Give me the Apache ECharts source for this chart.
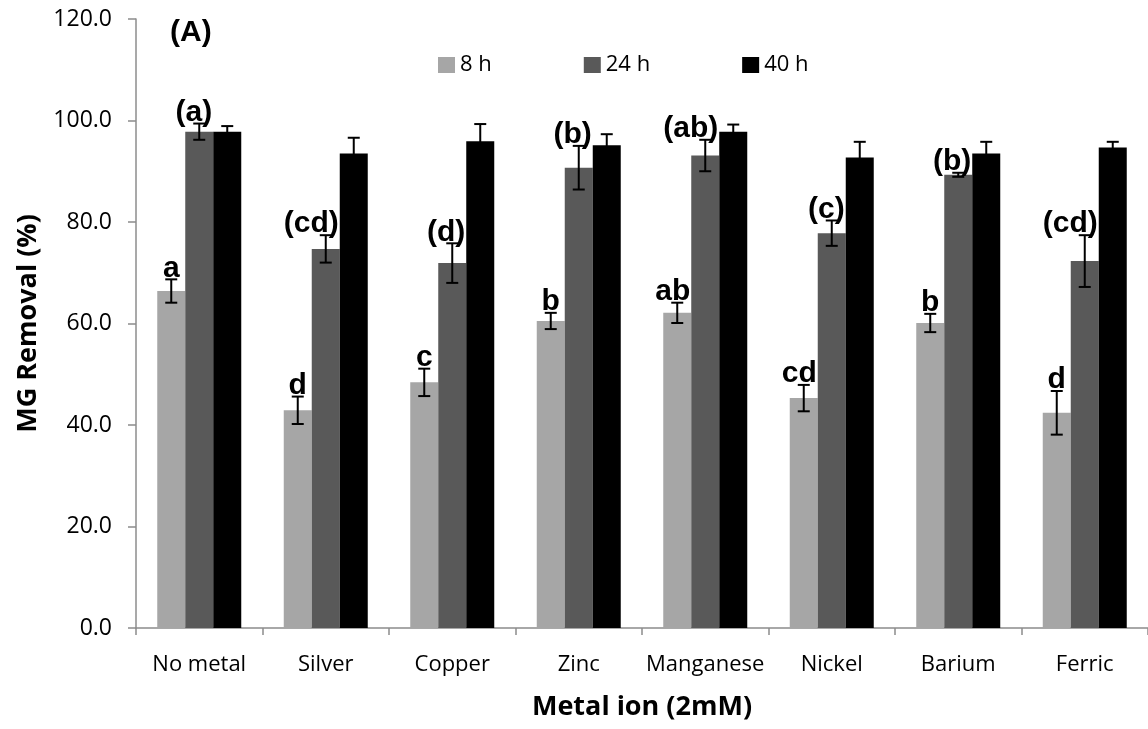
<!DOCTYPE html>
<html>
<head>
<meta charset="utf-8">
<title>MG Removal by metal ion</title>
<script src="https://cdn.jsdelivr.net/npm/echarts@6/dist/echarts.min.js"></script>
<style>
  html, body { margin: 0; padding: 0; background: #fff; }
  #chart { width: 1148px; height: 729px; }
</style>
</head>
<body>
<div id="chart"></div>
<script>
// Metal ions tested (2 mM)
const categories = ['No metal', 'Silver', 'Copper', 'Zinc', 'Manganese', 'Nickel', 'Barium', 'Ferric'];

// MG removal (%) and standard deviations at each sampling time
const removal8h  = [66.4, 42.9, 48.4, 60.5, 62.1, 45.3, 60.1, 42.4];
const err8h      = [2.3, 2.7, 2.7, 1.6, 2.0, 2.6, 1.8, 4.3];
const removal24h = [97.8, 74.7, 71.9, 90.7, 93.1, 77.8, 89.3, 72.3];
const err24h     = [1.6, 2.7, 3.9, 4.3, 3.1, 2.5, 0.4, 5.1];
const removal40h = [97.8, 93.5, 95.9, 95.1, 97.8, 92.7, 93.5, 94.7];
const err40h     = [1.1, 3.1, 3.4, 2.2, 1.4, 3.1, 2.3, 1.1];

// Significance groupings
const letters8h  = ['a', 'd', 'c', 'b', 'ab', 'cd', 'b', 'd'];
const letters24h = ['(a)', '(cd)', '(d)', '(b)', '(ab)', '(c)', '(b)', '(cd)'];

const seriesNames = ['8 h', '24 h', '40 h'];
const colors = ['#a6a6a6', '#595959', '#000000'];
const yTicks = [0, 20, 40, 60, 80, 100, 120];

const BAR_W = 28;
const LABEL_FONT = 'bold 30px "Liberation Sans", Arial, sans-serif';
const measureCtx = document.createElement('canvas').getContext('2d');
measureCtx.font = LABEL_FONT;
function textWidth(t) { return measureCtx.measureText(t).width; }

const chart = echarts.init(document.getElementById('chart'), null, { renderer: 'canvas' });

// Error bars with the significance letter above each bar
function errorSeries(idx, values, errs, letters) {
  const data = values.map((v, i) => [i, v, errs[i], letters ? letters[i] : '']);
  return {
    type: 'custom',
    name: seriesNames[idx] + ' error',
    z: 5,
    silent: true,
    data: data,
    renderItem: function (params, api) {
      const ci = api.value(0);
      const v = api.value(1);
      const e = api.value(2);
      const letter = data[params.dataIndex][3];
      const cx = api.coord([ci, 0])[0] + (idx - 1) * BAR_W;
      const yTop = api.coord([ci, v + e])[1];
      const yBot = api.coord([ci, v - e])[1];
      const cap = 6;
      const lineStyle = { stroke: '#000', lineWidth: 2 };
      const children = [
        { type: 'line', shape: { x1: cx, y1: yTop, x2: cx, y2: yBot }, style: lineStyle },
        { type: 'line', shape: { x1: cx - cap, y1: yTop, x2: cx + cap, y2: yTop }, style: lineStyle },
        { type: 'line', shape: { x1: cx - cap, y1: yBot, x2: cx + cap, y2: yBot }, style: lineStyle }
      ];
      if (letter) {
        const w = textWidth(letter);
        const shift = Math.max(0, w / 2 - 13);
        children.push({
          type: 'text',
          x: cx - shift,
          y: yTop + 4,
          style: {
            text: letter,
            font: LABEL_FONT,
            fill: '#000',
            align: 'center',
            verticalAlign: 'bottom'
          }
        });
      }
      return { type: 'group', children: children };
    }
  };
}

const option = {
  animation: false,
  backgroundColor: '#ffffff',
  textStyle: { fontFamily: '"Open Sans", sans-serif' },
  grid: { left: 136, top: 19, width: 1016, height: 609 },
  legend: {
    data: seriesNames,
    left: 433,
    top: 49,
    icon: 'rect',
    itemWidth: 17,
    itemHeight: 16,
    itemGap: 92,
    textStyle: { fontFamily: '"Open Sans", sans-serif', fontSize: 22, color: '#000' }
  },
  graphic: [{
    type: 'text',
    left: 170,
    top: 18,
    style: { text: '(A)', font: LABEL_FONT, fill: '#000' }
  }],
  xAxis: {
    type: 'category',
    data: categories,
    name: 'Metal ion (2mM)',
    nameLocation: 'middle',
    nameGap: 66,
    nameTextStyle: { fontFamily: '"Open Sans", sans-serif', fontWeight: 'bold', fontSize: 27, color: '#000' },
    axisLine: { lineStyle: { color: '#8c8c8c', width: 1.5 } },
    axisTick: { show: true, length: 7, lineStyle: { color: '#8c8c8c', width: 1.5 } },
    axisLabel: { interval: 0, fontFamily: '"Open Sans", sans-serif', fontSize: 22, color: '#000', margin: 26 }
  },
  yAxis: {
    type: 'value',
    min: 0,
    max: 120,
    interval: 20,
    name: 'MG Removal (%)',
    nameLocation: 'middle',
    nameGap: 94,
    nameTextStyle: { fontFamily: '"Open Sans", sans-serif', fontWeight: 'bold', fontSize: 27, color: '#000' },
    splitLine: { show: false },
    axisLine: { show: true, lineStyle: { color: '#8c8c8c', width: 1.5 } },
    axisTick: { show: true, length: 8, lineStyle: { color: '#8c8c8c', width: 1.5 } },
    axisLabel: {
      fontFamily: '"Open Sans", sans-serif',
      fontSize: 23,
      color: '#000',
      margin: 24,
      formatter: function (v) { return yTicks.indexOf(v) >= 0 ? v.toFixed(1) : ''; }
    }
  },
  series: [
    { type: 'bar', name: seriesNames[0], data: removal8h, barWidth: BAR_W, barGap: '0%', itemStyle: { color: colors[0] } },
    { type: 'bar', name: seriesNames[1], data: removal24h, barWidth: BAR_W, barGap: '0%', itemStyle: { color: colors[1] } },
    { type: 'bar', name: seriesNames[2], data: removal40h, barWidth: BAR_W, barGap: '0%', itemStyle: { color: colors[2] } },
    errorSeries(0, removal8h, err8h, letters8h),
    errorSeries(1, removal24h, err24h, letters24h),
    errorSeries(2, removal40h, err40h, null)
  ]
};

chart.setOption(option);
</script>
</body>
</html>
